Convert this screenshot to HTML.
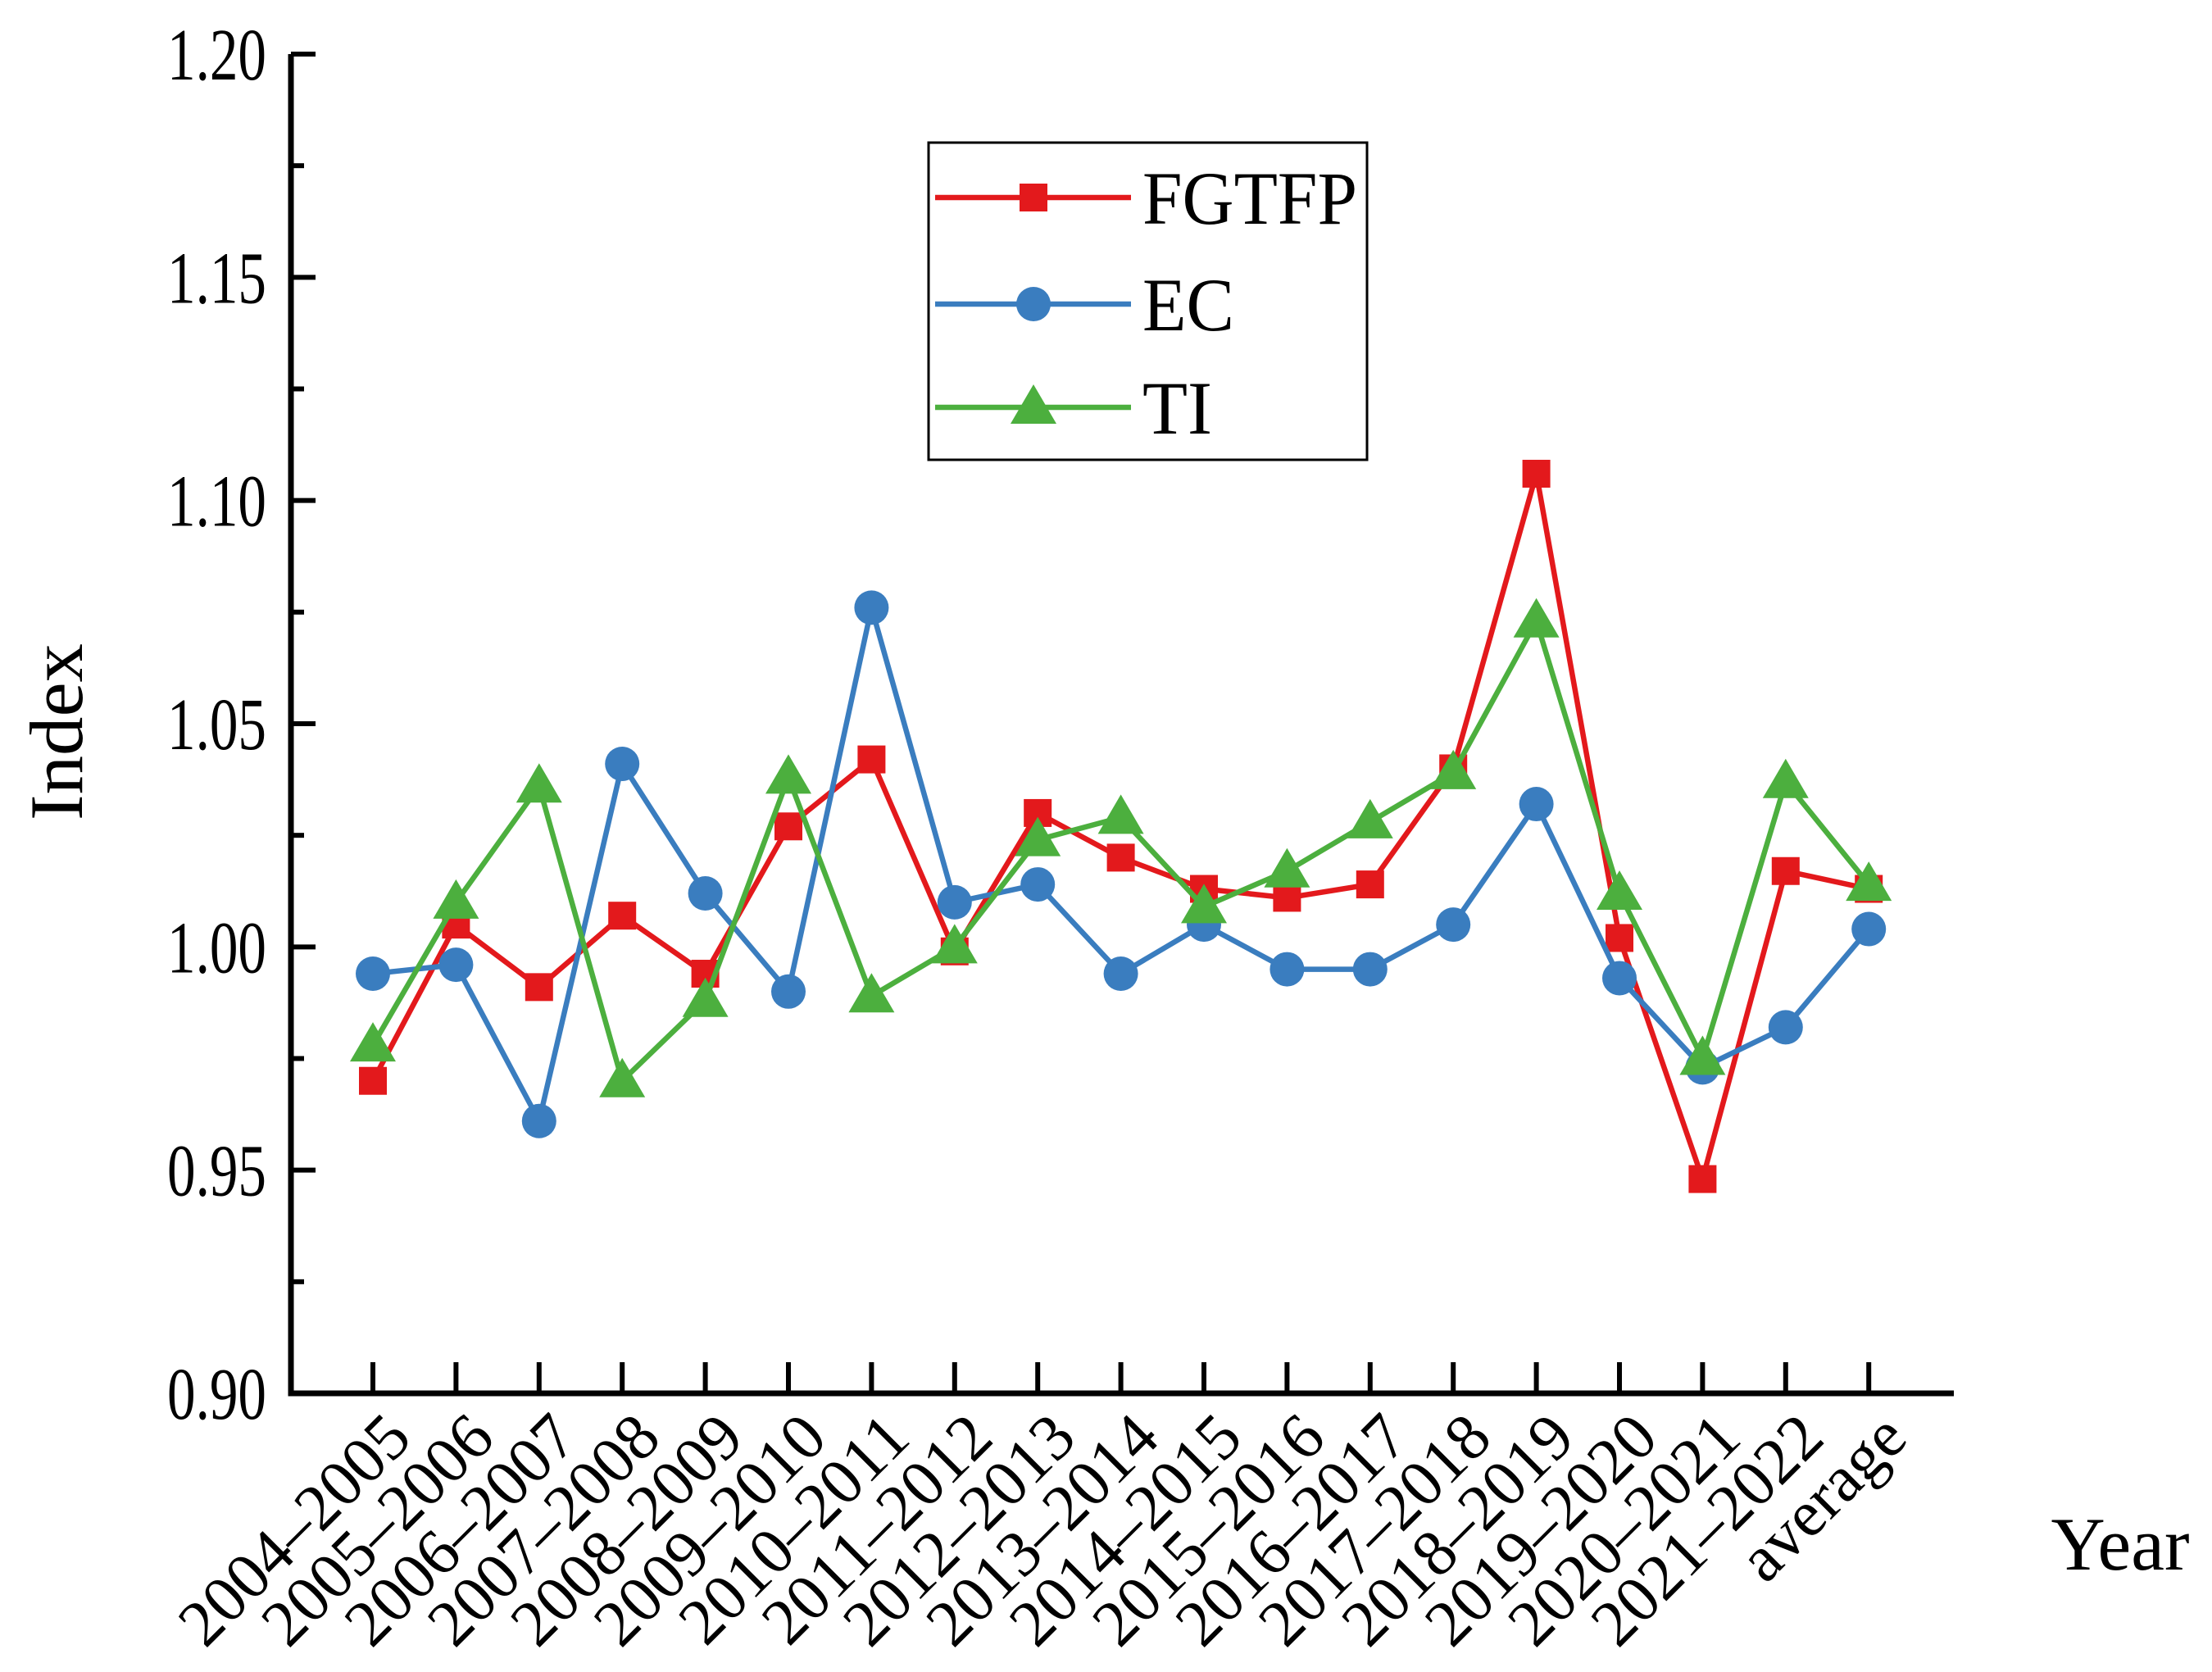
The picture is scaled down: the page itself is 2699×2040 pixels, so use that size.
<!DOCTYPE html>
<html><head><meta charset="utf-8"><style>
html,body{margin:0;padding:0;background:#fff}
svg{display:block}
text{font-family:"Liberation Serif",serif;fill:#000}
</style></head><body>
<svg id="chart" width="2699" height="2040" viewBox="0 0 2699 2040" xmlns="http://www.w3.org/2000/svg">
<g id="axes"></g>
<g id="series"></g>
<g id="legend"></g>
<text x="0" y="0" font-size="92" text-anchor="middle" textLength="216" lengthAdjust="spacingAndGlyphs" transform="translate(100,893) rotate(-90)">Index</text>
<text x="2587" y="1915" font-size="92" text-anchor="middle" textLength="169" lengthAdjust="spacingAndGlyphs">Year</text>
</svg>
<script>
const categories = ["2004–2005","2005–2006","2006–2007","2007–2008","2008–2009","2009–2010","2010–2011","2011–2012","2012–2013","2013–2014","2014–2015","2015–2016","2016–2017","2017–2018","2018–2019","2019–2020","2020–2021","2021–2022","average"];
const fgtfp = [0.970,1.005,0.991,1.007,0.994,1.027,1.042,0.999,1.030,1.020,1.013,1.011,1.014,1.040,1.106,1.002,0.948,1.017,1.013];
const ec = [0.994,0.996,0.961,1.041,1.012,0.990,1.076,1.010,1.014,0.994,1.005,0.995,0.995,1.005,1.032,0.993,0.973,0.982,1.004];
const ti = [0.978,1.010,1.036,0.970,0.988,1.038,0.989,1.000,1.024,1.029,1.009,1.017,1.028,1.039,1.073,1.012,0.975,1.037,1.014];
const yTicks = [0.90,0.95,1.00,1.05,1.10,1.15,1.20];
const yTickLabels = ["0.90","0.95","1.00","1.05","1.10","1.15","1.20"];
const seriesNames = ["FGTFP","EC","TI"];

const NS="http://www.w3.org/2000/svg";
const X0=355, XR=2384, YTOP=66, YBOT=1700, FIRST=455, STEP=101.4;
const yMin=0.90, yMax=1.20;
function xs(i){return FIRST+i*STEP;}
function ys(v){return YBOT-(v-yMin)/(yMax-yMin)*(YBOT-YTOP);}
function mk(tag,attrs,parent){const e=document.createElementNS(NS,tag);for(const k in attrs)e.setAttribute(k,attrs[k]);parent.appendChild(e);return e;}

const axes=document.getElementById('axes');
let a=mk('path',{d:`M${X0},${YTOP} V${YBOT} H${XR}`,fill:'none',stroke:'#000','stroke-width':7},axes);


yTicks.forEach((t,i)=>{
  const y=ys(t);
  let l=mk('line',{x1:X0,x2:X0+30,y1:y,y2:y,stroke:'#000','stroke-width':6},axes);
  
  
  if(i<yTicks.length-1){
    const ym=ys(t+0.025);
    let m=mk('line',{x1:X0,x2:X0+16,y1:ym,y2:ym,stroke:'#000','stroke-width':6},axes);
    
    
  }
  let tx=mk('text',{x:X0-30,y:y+31,'font-size':90,'text-anchor':'end',textLength:121,lengthAdjust:'spacingAndGlyphs'},axes);
  tx.textContent=yTickLabels[i];
  
  
});
categories.forEach((c,i)=>{
  const x=xs(i);
  let l=mk('line',{x1:x,x2:x,y1:YBOT,y2:YBOT-38,stroke:'#000','stroke-width':6},axes);
  
  
  let tx=mk('text',{x:0,y:0,'font-size':80,'text-anchor':'end',transform:`translate(${x+50},${YBOT+58}) rotate(-45)`},axes);
  tx.textContent=c;
  
  
});

const colors=["#e3191c","#3a7dbf","#4caf3e"];
const data=[fgtfp,ec,ti];
function marker(kind,x,y,col,parent){
  let e;
  if(kind===0) e=mk('rect',{x:x-17,y:y-17,width:34,height:34,fill:col},parent);
  else if(kind===1) e=mk('circle',{cx:x,cy:y,r:21,fill:col},parent);
  else e=mk('polygon',{points:`${x},${y-28} ${x+28},${y+20} ${x-28},${y+20}`,fill:col},parent);
  return e;
}
const sg=document.getElementById('series');
data.forEach((vals,s)=>{
  const g=mk('g',{},sg);
  
  
  let p=mk('polyline',{points:vals.map((v,i)=>xs(i)+','+ys(v)).join(' '),fill:'none',stroke:colors[s],'stroke-width':6.5},g);
  
  
  vals.forEach((v,i)=>{
    const m=marker(s,xs(i),ys(v),colors[s],g);
    
    
  });
});

const lg=document.getElementById('legend');
let box=mk('rect',{x:1133,y:174,width:535,height:387,fill:'#fff',stroke:'#000','stroke-width':3},lg);


const rowsY=[241,371,497];
const legW=[262,112,85];
seriesNames.forEach((n,s)=>{
  const g=mk('g',{},lg);
  
  
  mk('line',{x1:1141,x2:1380,y1:rowsY[s],y2:rowsY[s],stroke:colors[s],'stroke-width':6.5},g);
  marker(s,1261,rowsY[s],colors[s],g);
  let t=mk('text',{x:1394,y:rowsY[s]+32,'font-size':92,textLength:legW[s],lengthAdjust:'spacingAndGlyphs'},g);
  t.textContent=n;
  
  
});
</script>
</body></html>
